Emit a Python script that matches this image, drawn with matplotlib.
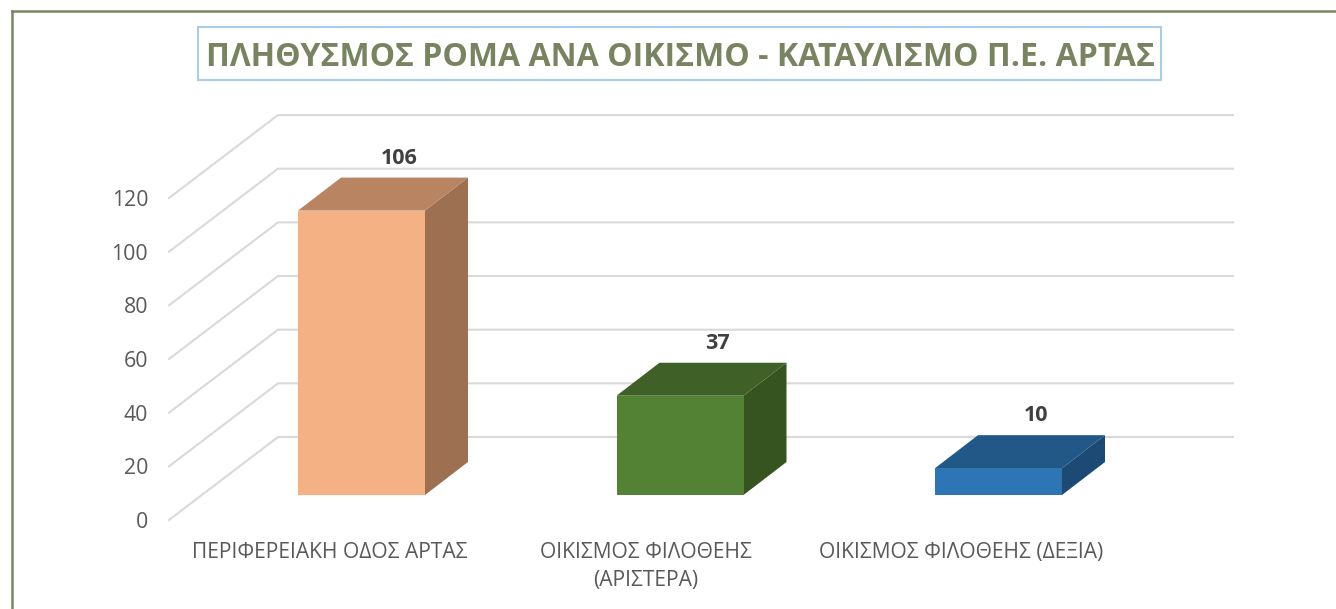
import matplotlib
matplotlib.use('Agg')
import matplotlib.pyplot as plt
from matplotlib.patches import Polygon, Rectangle

plt.rcParams['font.family'] = ['Open Sans', 'DejaVu Sans']

W, H = 1336, 609

# data
categories = ['ΠΕΡΙΦΕΡΕΙΑΚΗ ΟΔΟΣ ΑΡΤΑΣ', 'ΟΙΚΙΣΜΟΣ ΦΙΛΟΘΕΗΣ\n(ΑΡΙΣΤΕΡΑ)', 'ΟΙΚΙΣΜΟΣ ΦΙΛΟΘΕΗΣ (ΔΕΞΙΑ)']
values = [106, 37, 10]
y_ticks = [0, 20, 40, 60, 80, 100, 120]
title = 'ΠΛΗΘΥΣΜΟΣ ΡΟΜΑ ΑΝΑ ΟΙΚΙΣΜΟ - ΚΑΤΑΥΛΙΣΜΟ Π.Ε. ΑΡΤΑΣ'

front_colors = ['#f4b183', '#548235', '#2e75b6']
top_colors = ['#b98462', '#3f6127', '#215888']
side_colors = ['#9c7050', '#355420', '#1d4a75']
label_x = [-0.100, 0.893, 1.882]

# pixel layout of the plot
px_left, px_right, px_zero, px_top = 169, 1233, 520, 115
px_per_unit = 2.683
px_per_cat = 318.5
px_cat0 = 361.5


def xunits(px):
    return px / px_per_cat


def yunits(px):
    return px / px_per_unit


fig = plt.figure(figsize=(W / 100, H / 100), dpi=100)
ax = fig.add_axes([px_left / W, 1 - px_zero / H, (px_right - px_left) / W, (px_zero - px_top) / H])
ax.set_xlim((px_left - px_cat0) / px_per_cat, (px_right - px_cat0) / px_per_cat)
ax.set_ylim(0, yunits(px_zero - px_top))
ax.patch.set_alpha(0)
for s in ax.spines.values():
    s.set_visible(False)

# gridlines: wall part and back part
wall_dx, wall_dy = xunits(109), yunits(83)
x0 = ax.get_xlim()[0]
x1 = ax.get_xlim()[1]
for v in y_ticks:
    ax.plot([x0, x0 + wall_dx, x1], [v, v + wall_dy, v + wall_dy], color='#d9d9d9', lw=1.5, zorder=1, clip_on=False)

# 3d bars
bar_w = xunits(127)
depth_x, depth_y = xunits(43), yunits(33)
base = yunits(px_zero - 495)
for i, v in enumerate(values):
    l, r = i - bar_w / 2, i + bar_w / 2
    top = base + v
    ax.add_patch(Polygon([(r, base), (r + depth_x, base + depth_y), (r + depth_x, top + depth_y), (r, top)],
                         closed=True, fc=side_colors[i], ec='none', zorder=3))
    ax.add_patch(Polygon([(l, top), (r, top), (r + depth_x, top + depth_y), (l + depth_x, top + depth_y)],
                         closed=True, fc=top_colors[i], ec='none', zorder=3))
    ax.add_patch(Rectangle((l, base), bar_w, v, fc=front_colors[i], ec='none', zorder=4))
    ax.text(i + depth_x / 2 + xunits(16), top + depth_y + yunits(19.5), str(v), ha='center', va='center',
            fontsize=15.5, fontweight='bold', color='#404040', zorder=5)

ax.set_yticks(y_ticks)
ax.set_xticks(label_x)
ax.set_xticklabels(categories, linespacing=1.45)
ax.tick_params(axis='y', length=0, pad=15, labelsize=15.3, labelcolor='#595959')
ax.tick_params(axis='x', length=0, pad=15.5, labelsize=15.1, labelcolor='#595959')

# outer frame, only top and left are in the picture
frame = '#7a8660'
fig.add_artist(plt.Line2D([11.5 / W, 11.5 / W], [0, 1 - 11 / H], color=frame, lw=1.8))
fig.add_artist(plt.Line2D([11.5 / W, 1], [1 - 11 / H, 1 - 11 / H], color=frame, lw=1.8))

# title box
fig.add_artist(Rectangle((198 / W, 1 - 80 / H), 963 / W, 53 / H, transform=fig.transFigure,
                         fc='white', ec='#a9cdec', lw=1.5))
fig.text(680 / W, 1 - 57.5 / H, title, ha='center', va='center', fontsize=23, fontweight='bold', color='#77845f')

fig.savefig('out.png', dpi=100)
